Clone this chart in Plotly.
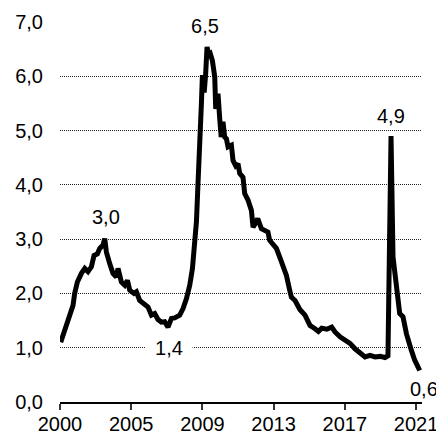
import plotly.graph_objects as go

# x positions in tick-slot units (tick 0 = 2000, tick 5 = 2021), y values in %
x_pos = [0.010, 0.066, 0.136, 0.183, 0.206, 0.244, 0.301, 0.348, 0.393, 0.441,
         0.478, 0.525, 0.558, 0.604, 0.628, 0.652, 0.698, 0.744, 0.792, 0.815,
         0.862, 0.909, 0.947, 0.979, 1.039, 1.073, 1.119, 1.190, 1.236, 1.284,
         1.330, 1.376, 1.424, 1.470, 1.517, 1.565, 1.611, 1.681, 1.728, 1.775,
         1.822, 1.860, 1.893, 1.916, 1.938, 1.952, 1.969, 1.986, 2.000, 2.025,
         2.046, 2.065, 2.088, 2.110, 2.140, 2.173, 2.187, 2.219, 2.243, 2.264,
         2.289, 2.313, 2.337, 2.360, 2.407, 2.430, 2.468, 2.500, 2.524, 2.570,
         2.594, 2.640, 2.688, 2.711, 2.758, 2.777, 2.829, 2.875, 2.921, 2.944,
         2.992, 3.039, 3.086, 3.132, 3.180, 3.226, 3.250, 3.301, 3.371, 3.441,
         3.511, 3.581, 3.629, 3.675, 3.746, 3.816, 3.862, 3.933, 4.003, 4.073,
         4.143, 4.213, 4.284, 4.354, 4.424, 4.494, 4.565, 4.606, 4.649, 4.677,
         4.725, 4.771, 4.817, 4.865, 4.935, 4.982, 5.052]
values = [1.10, 1.32, 1.54, 1.78, 2.00, 2.21, 2.37, 2.46, 2.40, 2.49,
          2.70, 2.73, 2.83, 2.89, 3.01, 2.76, 2.55, 2.37, 2.30, 2.46,
          2.21, 2.15, 2.24, 2.06, 2.00, 2.03, 1.87, 1.78, 1.75, 1.60,
          1.63, 1.52, 1.47, 1.48, 1.38, 1.54, 1.55, 1.60, 1.72, 1.90,
          2.15, 2.46, 2.95, 3.32, 4.02, 4.45, 4.50, 5.50, 6.02, 5.70,
          6.05, 6.54, 6.40, 6.42, 6.29, 5.99, 5.40, 5.68, 5.22, 4.88,
          5.16, 4.88, 4.85, 4.70, 4.73, 4.45, 4.35, 4.39, 4.21, 4.14,
          3.84, 3.72, 3.53, 3.22, 3.32, 3.38, 3.19, 3.16, 3.13, 2.98,
          2.89, 2.83, 2.67, 2.49, 2.33, 2.06, 1.93, 1.87, 1.70, 1.60,
          1.41, 1.35, 1.30, 1.36, 1.34, 1.38, 1.29, 1.20, 1.14, 1.08,
          0.98, 0.89, 0.83, 0.86, 0.83, 0.84, 0.82, 0.85, 4.90, 2.67,
          2.12, 1.63, 1.57, 1.26, 0.95, 0.77, 0.58]

tick_pos = [0, 1, 2, 3, 4, 5]
tick_labels = ["2000", "2005", "2009", "2013", "2017", "2021"]
y_ticks = [0, 1, 2, 3, 4, 5, 6, 7]

FONT = "Liberation Sans, Arial, sans-serif"
FS = 20

fig = go.Figure()
fig.add_trace(go.Scatter(x=x_pos, y=values, mode="lines",
                         line=dict(color="black", width=5),
                         hoverinfo="skip", showlegend=False))

i_max = values.index(max(values))
i_min = 34
i_first_peak = 14
i_spike = 108
i_last = len(values) - 1

def lab(i, text, xs, ys, bg=None, w=None):
    d = dict(x=x_pos[i], y=values[i], text=text, showarrow=False,
             xanchor="center", yanchor="middle", xshift=xs, yshift=ys,
             font=dict(family=FONT, size=FS, color="black"))
    if bg:
        d.update(bgcolor=bg, width=w, height=24)
    fig.add_annotation(**d)

lab(i_first_peak, "3,0", 1, 22)
lab(i_max, "6,5", -1.6, 21, bg="white", w=44)
lab(i_min, "1,4", 1, -21, bg="white", w=44)
lab(i_spike, "4,9", 0, 20)
lab(i_last, "0,6", 4, -18)

# page body adds an 8px offset; width sized to fit the window
fig.update_layout(
    width=436, height=432,
    margin=dict(l=52, r=22, t=14, b=38),
    paper_bgcolor="white", plot_bgcolor="white",
    separators=", ",
    font=dict(family=FONT, size=FS, color="black"),
    xaxis=dict(range=[0, 5.084], tickmode="array", tickvals=tick_pos,
               ticktext=tick_labels, showgrid=False, zeroline=False,
               showline=True, linecolor="black", linewidth=1.5,
               ticks="outside", ticklen=6, tickcolor="#333", tickwidth=1.5,
               automargin=False, ticklabelstandoff=-3,
               tickfont=dict(size=FS, color="black")),
    yaxis=dict(range=[0, 7], tickmode="array", tickvals=y_ticks,
               tickformat=".1f", showgrid=True, gridcolor="#222",
               gridwidth=1, griddash="1px,1px", zeroline=False,
               showline=False, ticks="", ticklabelstandoff=16,
               automargin=False,
               tickfont=dict(size=FS, color="black")),
)

fig.write_html("out.html")
